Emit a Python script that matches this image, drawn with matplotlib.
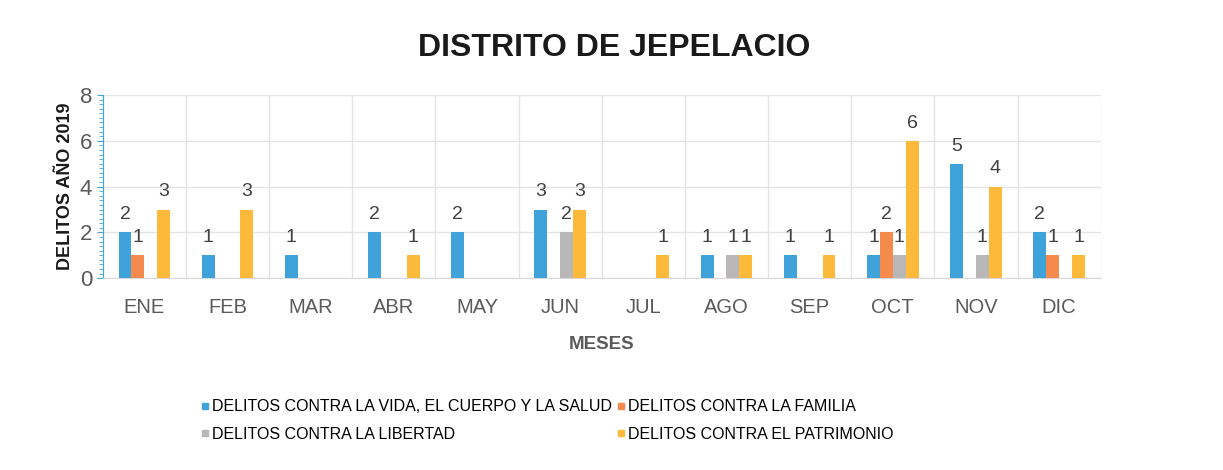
import numpy as np
import matplotlib
matplotlib.use("Agg")
import matplotlib.pyplot as plt
from matplotlib.lines import Line2D
from matplotlib.ticker import MultipleLocator

MESES = ["ENE", "FEB", "MAR", "ABR", "MAY", "JUN", "JUL", "AGO", "SEP", "OCT", "NOV", "DIC"]
VIDA = [2, 1, 1, 2, 2, 3, 0, 1, 1, 1, 5, 2]
FAMILIA = [1, 0, 0, 0, 0, 0, 0, 0, 0, 2, 0, 1]
LIBERTAD = [0, 0, 0, 0, 0, 2, 0, 1, 0, 1, 1, 0]
PATRIMONIO = [3, 3, 0, 1, 0, 3, 1, 1, 1, 6, 4, 1]
SERIES = [
    ("DELITOS CONTRA LA VIDA, EL CUERPO Y LA SALUD", VIDA, "#3FA2DB"),
    ("DELITOS CONTRA LA FAMILIA", FAMILIA, "#F58A4E"),
    ("DELITOS CONTRA LA LIBERTAD", LIBERTAD, "#B9B6B8"),
    ("DELITOS CONTRA EL PATRIMONIO", PATRIMONIO, "#FDB93A"),
]

plt.rcParams["font.family"] = ["Liberation Sans", "DejaVu Sans"]
GREY_TXT = "#5a5a5a"

fig = plt.figure(figsize=(12.23, 4.70), dpi=100)
ax = fig.add_axes([0.084, 0.408, 0.816, 0.39])

x = np.arange(len(MESES))
w = 0.155
for i, (name, vals, col) in enumerate(SERIES):
    pos = x + (i - 1.5) * w
    ax.bar(pos, vals, w, color=col, label=name, zorder=3)
    for px, v in zip(pos, vals):
        if v > 0:
            ax.text(px, v + 0.4, f"{v}", ha="center", va="bottom",
                    fontsize=14, color="#404040", zorder=4)

ax.set_xlim(-0.5, len(MESES) - 0.5)
ax.set_ylim(0, 8)
ax.yaxis.set_major_locator(MultipleLocator(2))
ax.yaxis.set_minor_locator(MultipleLocator(0.2))
ax.set_xticks(x)
ax.set_xticklabels(MESES, fontsize=14.5, color=GREY_TXT)
ax.tick_params(axis="x", length=0, pad=14)
ax.tick_params(axis="y", which="major", labelsize=16, labelcolor=GREY_TXT,
               color="#3FA2DB", length=4)
ax.tick_params(axis="y", which="minor", color="#3FA2DB", length=3)

# category separators and horizontal grid
ax.set_xticks(np.arange(-0.5, len(MESES)), minor=True)
ax.grid(axis="x", which="minor", color="#e4e4e4", lw=1, zorder=0)
ax.grid(axis="y", which="major", color="#e4e4e4", lw=1, zorder=0)
ax.tick_params(axis="x", which="minor", length=0)

for s in ("top", "right"):
    ax.spines[s].set_visible(False)
ax.spines["bottom"].set_color("#d8d8d8")
ax.spines["left"].set_color("#3FA2DB")

ax.set_ylabel("DELITOS AÑO 2019", fontsize=13, fontweight="bold", color="#1a1a1a")
ax.set_xlabel("MESES", fontsize=13.5, fontweight="bold", color=GREY_TXT, labelpad=14)
fig.text(0.502, 0.897, "DISTRITO DE JEPELACIO", ha="center", va="center",
         fontsize=23, fontweight="bold", color="#1a1a1a")

handles = [Line2D([0], [0], marker="s", ls="none", markersize=5,
                  markerfacecolor=c, markeredgecolor=c) for _, _, c in SERIES]
labels = [n for n, _, _ in SERIES]
order = [0, 2, 1, 3]
fig.legend([handles[i] for i in order], [labels[i] for i in order],
           loc="center", bbox_to_anchor=(0.447, 0.105), ncol=2, frameon=False,
           handlelength=0.6, handletextpad=0.1,
           columnspacing=0.3, labelspacing=0.8,
           prop={"family": ["Liberation Sans Narrow", "Liberation Sans"], "size": 11.5})

fig.savefig("out.png", dpi=100)
